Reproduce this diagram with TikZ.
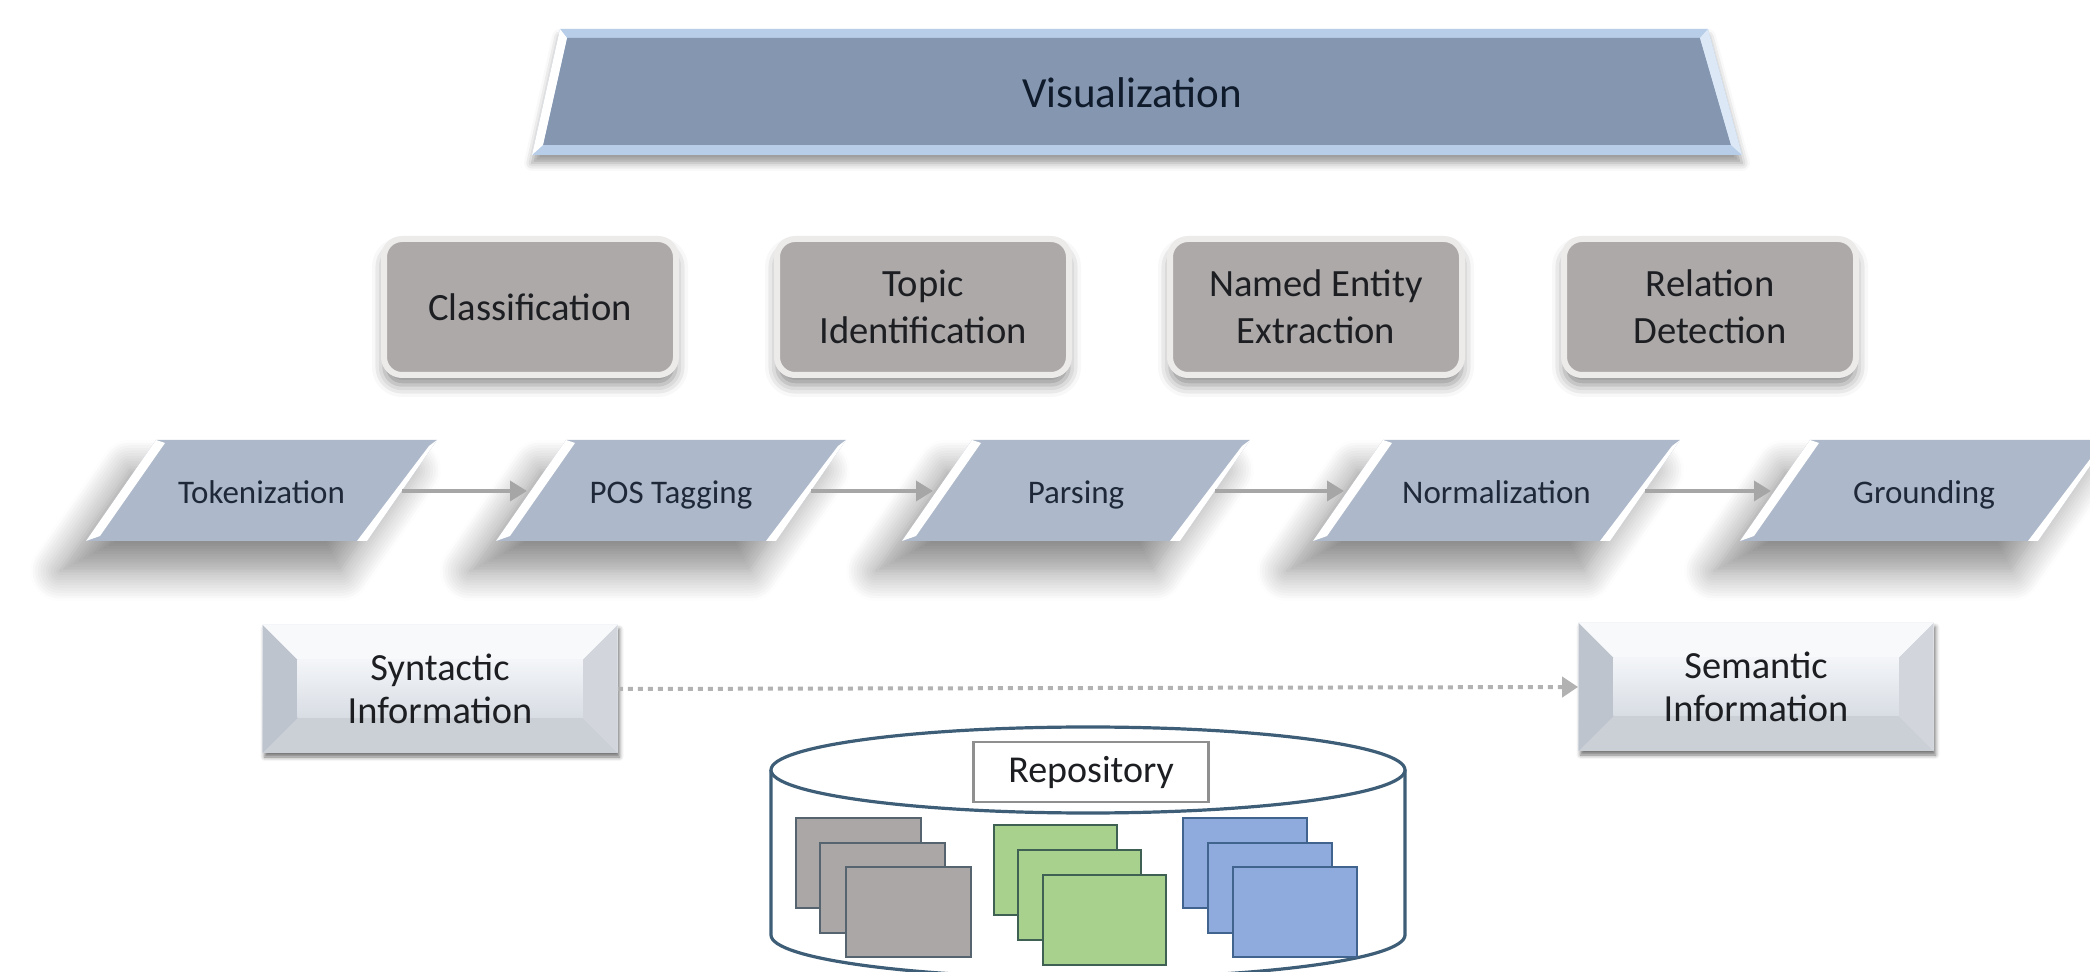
\documentclass[tikz,border=0pt]{standalone}
\usepackage{fontspec}
\setmainfont{Carlito}
\usetikzlibrary{arrows.meta,calc,shadows.blur}
\definecolor{vizframe}{HTML}{B7CDE8}
\definecolor{vizface}{HTML}{8496B0}
\definecolor{vizright}{HTML}{DCE8F5}
\definecolor{vtext}{HTML}{0F1A2B}
\definecolor{taskfill}{HTML}{ADA9A9}
\definecolor{taskrim}{HTML}{EDEAEA}
\definecolor{stepfill}{HTML}{ADB9CA}
\definecolor{arrowgray}{HTML}{A6A6A6}
\definecolor{dotgray}{HTML}{B2B2B2}
\definecolor{txt}{HTML}{1C1E22}
\definecolor{steptxt}{HTML}{1E2838}
\definecolor{facetop}{HTML}{F3F5F8}
\definecolor{facebot}{HTML}{D8DDE4}
\definecolor{facetL}{HTML}{BEC4CD}
\definecolor{facetR}{HTML}{D2D6DC}
\definecolor{facetT}{HTML}{F8F9FB}
\definecolor{facetB}{HTML}{CBD0D7}
\definecolor{cylline}{HTML}{3E5E78}
\definecolor{labline}{HTML}{8F8F8F}
\definecolor{grayfill}{HTML}{ABA7A6}
\definecolor{grayline}{HTML}{55646E}
\definecolor{greenfill}{HTML}{A9D18E}
\definecolor{greenline}{HTML}{3F6153}
\definecolor{bluefill}{HTML}{8FAADC}
\definecolor{blueline}{HTML}{41648F}
\newcommand\drawstep[4]{%
  \pgfmathsetmacro\tlx{#2}%
  \pgfmathsetmacro\trx{#2+#3}%
  \pgfmathsetmacro\blx{#2-70}%
  \pgfmathsetmacro\brx{#2+#3-70}%
  \pgfmathsetmacro\cx{(\tlx+\trx+\blx+\brx)/4}%
  \fill[stepfill, blur shadow={shadow xshift=-13pt, shadow yshift=-15pt, shadow blur radius=15pt, shadow opacity=45, shadow blur steps=12}]
    (\blx,541) -- (\tlx,440) -- (\trx,440) -- (\brx,541) -- cycle;
  \fill[white] (\blx,541) -- (\tlx,440) -- (\tlx+9,443) -- (\blx+14,536) -- cycle;
  \fill[white] (\brx,541) -- (\trx,440) -- (\trx-8,446) -- (\brx-10,541) -- cycle;
  \node[steptext, anchor=base] (#1) at (\cx,504) {#4};
  \coordinate (#1-w) at ({(\tlx+\blx)/2},491);
  \coordinate (#1-e) at ({(\trx+\brx)/2},491);
}
\begin{document}
\begin{tikzpicture}[x=0.5pt,y=-0.5pt,
  task/.style={rounded corners=9pt, fill=taskfill, draw=taskrim, line width=3pt,
    minimum width=146pt, minimum height=68pt, align=center, text=txt,
    font=\fontsize{19.3}{23.5}\selectfont,
    blur shadow={shadow xshift=0pt, shadow yshift=-5pt, shadow blur radius=6pt, shadow opacity=45}},
  steptext/.style={font=\fontsize{16.5}{19}\selectfont, text=steptxt, inner sep=1pt},
  steparrow/.style={draw=arrowgray, line width=1.8pt, -{Triangle[length=8.5pt,width=10pt]}, shorten >=2pt},
  dotarrow/.style={draw=dotgray, line width=2pt, dash pattern=on 2.5pt off 2.5pt,
    -{Triangle[length=8pt,width=10pt]}},
  bevelbox/.style={minimum width=177.5pt, minimum height=64pt, inner sep=0pt, align=center,
    text=txt, font=\fontsize{19.2}{21.5}\selectfont,
    blur shadow={shadow xshift=1pt, shadow yshift=-2pt, shadow blur radius=2pt, shadow opacity=55},
    path picture={
      \coordinate (pnw) at (path picture bounding box.north west);
      \coordinate (pne) at (path picture bounding box.north east);
      \coordinate (psw) at (path picture bounding box.south west);
      \coordinate (pse) at (path picture bounding box.south east);
      \shade[top color=facetop, bottom color=facebot] (pnw) rectangle (pse);
      \fill[facetT] (pnw) -- (pne) -- ($(pne)+(-17.5pt,-17.5pt)$) -- ($(pnw)+(17.5pt,-17.5pt)$) -- cycle;
      \fill[facetB] (psw) -- (pse) -- ($(pse)+(-17.5pt,17.5pt)$) -- ($(psw)+(17.5pt,17.5pt)$) -- cycle;
      \fill[facetL] (pnw) -- (psw) -- ($(psw)+(17.5pt,17.5pt)$) -- ($(pnw)+(17.5pt,-17.5pt)$) -- cycle;
      \fill[facetR] (pne) -- (pse) -- ($(pse)+(-17.5pt,17.5pt)$) -- ($(pne)+(-17.5pt,-17.5pt)$) -- cycle;
      \shade[top color=facetop, bottom color=facebot] ($(pnw)+(17.5pt,-17.5pt)$) rectangle ($(pse)+(-17.5pt,17.5pt)$);
    }},
  cyl/.style={draw=cylline, line width=1.6pt, fill=white},
  sqgray/.style={fill=grayfill, draw=grayline, line width=1pt},
  sqgreen/.style={fill=greenfill, draw=greenline, line width=1pt},
  sqblue/.style={fill=bluefill, draw=blueline, line width=1pt}
]
\useasboundingbox (0,0) rectangle (2090,972);

% Visualization banner
\fill[vizframe, blur shadow={shadow xshift=0pt, shadow yshift=-4pt, shadow blur radius=4pt, shadow opacity=40}]
  (560,29) -- (1708,29) -- (1742,155) -- (532,155) -- cycle;
\fill[vizface] (567,38) -- (1700,38) -- (1731,145) -- (543,145) -- cycle;
\fill[white] (560,29) -- (567,38) -- (543,145) -- (532,155) -- cycle;
\fill[vizright] (1708,29) -- (1742,155) -- (1731,145) -- (1700,38) -- cycle;
\node[font=\fontsize{21.5}{25}\selectfont, text=vtext] (viz) at (1132,93) {Visualization};

% task boxes
\node[task] (cls) at (530,307) {Classification};
\node[task] (top) at (923,307) {Topic\\Identification};
\node[task] (ner) at (1316,307) {Named Entity\\Extraction};
\node[task] (rel) at (1710,307) {Relation\\Detection};

% processing steps
\drawstep{tok}{156}{281}{Tokenization}
\drawstep{pos}{566}{280}{POS Tagging}
\drawstep{par}{972}{278}{Parsing}
\drawstep{nor}{1383}{297}{Normalization}
\drawstep{gro}{1810}{298}{Grounding}

\draw[steparrow] (tok-e) -- (pos-w);
\draw[steparrow] (pos-e) -- (par-w);
\draw[steparrow] (par-e) -- (nor-w);
\draw[steparrow] (nor-e) -- (gro-w);

% information boxes
\node[bevelbox] (syn) at (440,689) {Syntactic\\Information};
\node[bevelbox] (sem) at (1756,687) {Semantic\\Information};
\draw[dotarrow] (syn.east) -- (sem.west);

% repository cylinder
\draw[cyl] (771,770) -- (771,935) arc[start angle=180, end angle=360, x radius=158.5pt, y radius=21.5pt] -- (1405,770);
\draw[cyl] (1088,770) ellipse [x radius=158.5pt, y radius=21.5pt];
\node[draw=labline, line width=1.2pt, fill=white, minimum width=117.5pt, minimum height=30pt,
  font=\fontsize{19}{22}\selectfont, text=txt] (repo) at (1091,772) {Repository};

\draw[sqgray] (796,818) rectangle +(125,90);
\draw[sqgray] (820,843) rectangle +(125,90);
\draw[sqgray] (846,867) rectangle +(125,90);
\draw[sqgreen] (994,825) rectangle +(123,90);
\draw[sqgreen] (1018,850) rectangle +(123,90);
\draw[sqgreen] (1043,875) rectangle +(123,90);
\draw[sqblue] (1183,818) rectangle +(124,90);
\draw[sqblue] (1208,843) rectangle +(124,90);
\draw[sqblue] (1233,867) rectangle +(124,90);
\end{tikzpicture}
\end{document}
